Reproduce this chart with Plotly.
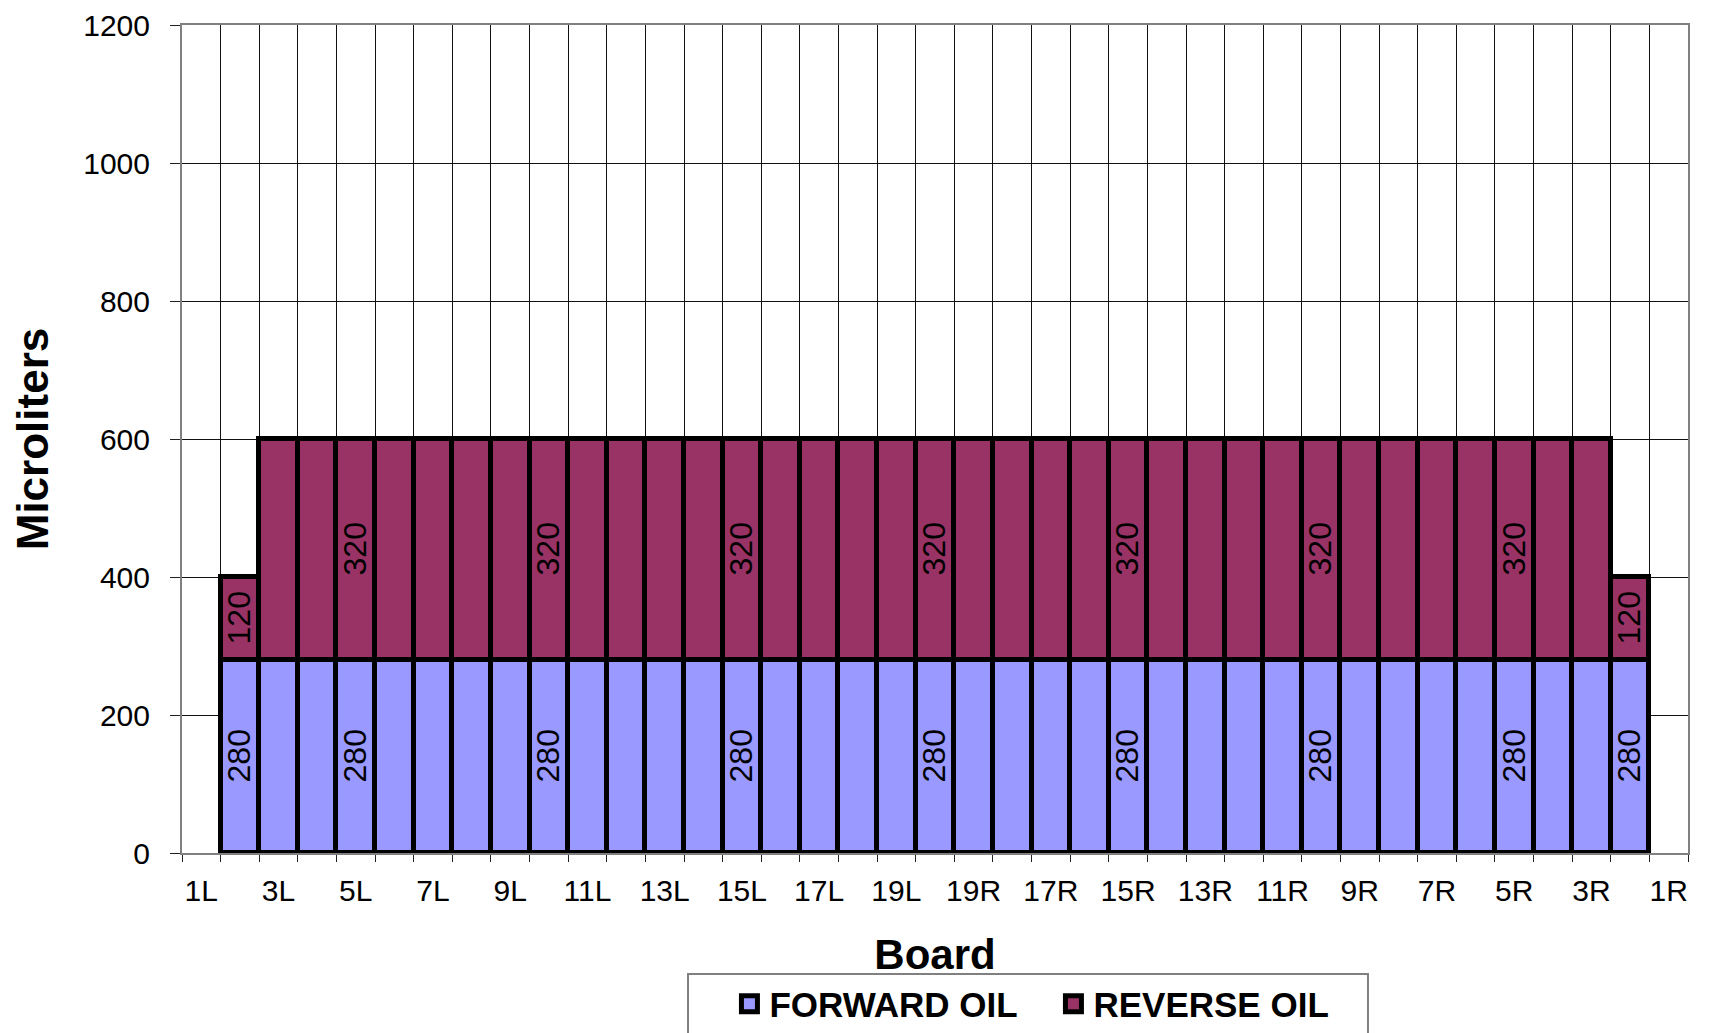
import plotly.graph_objects as go

categories = ["1L", "2L", "3L", "4L", "5L", "6L", "7L", "8L", "9L", "10L",
              "11L", "12L", "13L", "14L", "15L", "16L", "17L", "18L", "19L", "20",
              "19R", "18R", "17R", "16R", "15R", "14R", "13R", "12R", "11R", "10R",
              "9R", "8R", "7R", "6R", "5R", "4R", "3R", "2R", "1R"]

forward_oil = [None, 280, 280, 280, 280, 280, 280, 280, 280, 280,
               280, 280, 280, 280, 280, 280, 280, 280, 280, 280,
               280, 280, 280, 280, 280, 280, 280, 280, 280, 280,
               280, 280, 280, 280, 280, 280, 280, 280, None]

reverse_oil = [None, 120, 320, 320, 320, 320, 320, 320, 320, 320,
               320, 320, 320, 320, 320, 320, 320, 320, 320, 320,
               320, 320, 320, 320, 320, 320, 320, 320, 320, 320,
               320, 320, 320, 320, 320, 320, 320, 120, None]

# categories whose values are printed on the bars
labeled_categories = ["2L", "5L", "10L", "15L", "20", "15R", "10R", "5R", "2R"]

tick_labels = ["1L", "3L", "5L", "7L", "9L", "11L", "13L", "15L", "17L", "19L",
               "19R", "17R", "15R", "13R", "11R", "9R", "7R", "5R", "3R", "1R"]

FONT = "Liberation Sans, Arial, sans-serif"
FWD_COLOR = "#9999FF"
REV_COLOR = "#993366"

x_idx = list(range(len(categories)))


def label_text(values):
    return [str(v) if (c in labeled_categories and v is not None) else ""
            for c, v in zip(categories, values)]


fig = go.Figure()
for vals, nm, col in [(forward_oil, "FORWARD OIL", FWD_COLOR),
                      (reverse_oil, "REVERSE OIL", REV_COLOR)]:
    fig.add_trace(go.Bar(
        x=x_idx, y=vals, name=nm, width=1,
        marker=dict(color=col, line=dict(color="black", width=5.5)),
        text=label_text(vals), textposition="inside", insidetextanchor="middle",
        textangle=-90, constraintext="none",
        textfont=dict(family=FONT, size=32, color="black"),
        showlegend=False, hoverinfo="skip",
    ))
# legend entries
for nm, col in [("FORWARD OIL", FWD_COLOR), ("REVERSE OIL", REV_COLOR)]:
    fig.add_trace(go.Scatter(
        x=[None], y=[None], mode="markers", name=nm,
        marker=dict(symbol="square", size=16, color=col,
                    line=dict(color="black", width=5)),
        showlegend=True,
    ))

tickvals = [categories.index(t) for t in tick_labels]

T, B = 17, 188
PLOT_H = 1033 - T - B


def py(fig_px):
    """paper y from a figure pixel row"""
    return (1033 - B - fig_px) / PLOT_H


fig.update_layout(
    width=1710, height=1033,
    margin=dict(l=174, r=30, t=T, b=B, autoexpand=False),
    paper_bgcolor="white", plot_bgcolor="white",
    font=dict(family=FONT, color="black"),
    barmode="stack", bargap=0,
    legend=dict(
        orientation="h", x=0.3635, y=py(996), xanchor="left", yanchor="middle",
        traceorder="normal",
        bgcolor="rgba(0,0,0,0)", borderwidth=0,
        font=dict(family=FONT, size=35, color="black", weight="bold"),
        entrywidth=279, entrywidthmode="pixels",
    ),
    shapes=[dict(type="rect", xref="paper", yref="paper",
                 x0=0.336, x1=0.7875, y0=py(1040), y1=py(966),
                 line=dict(color="#808080", width=2), fillcolor="white",
                 layer="below")],
)

fig.update_xaxes(
    range=[-0.5, len(categories) - 0.5],
    tickmode="array", tickvals=tickvals, ticktext=tick_labels,
    ticks="outside", ticklen=7, tickcolor="rgba(0,0,0,0)",
    ticklabelstandoff=3,
    tickfont=dict(family=FONT, size=30, color="black"),
    showgrid=False, zeroline=False,
    showline=True, linecolor="#808080", linewidth=2, mirror=True,
    minor=dict(tickmode="linear", tick0=-0.5, dtick=1, ticks="outside",
               ticklen=7, tickcolor="#222222", showgrid=True,
               gridcolor="#111111", gridwidth=1),
    title=dict(text="<b>Board</b>", font=dict(family=FONT, size=42, color="black"),
               standoff=34),
)

fig.update_yaxes(
    range=[0, 1200], dtick=200, tick0=0,
    ticks="outside", ticklen=10, tickcolor="#222222",
    ticklabelstandoff=14, ticklabeloverflow="allow",
    tickfont=dict(family=FONT, size=30, color="black"),
    showgrid=True, gridcolor="#111111", gridwidth=1, zeroline=False,
    showline=True, linecolor="#808080", linewidth=2, mirror=True,
    title=dict(text="<b>Microliters</b>", font=dict(family=FONT, size=44, color="black"),
               standoff=30),
)

fig.write_html("out.html")
